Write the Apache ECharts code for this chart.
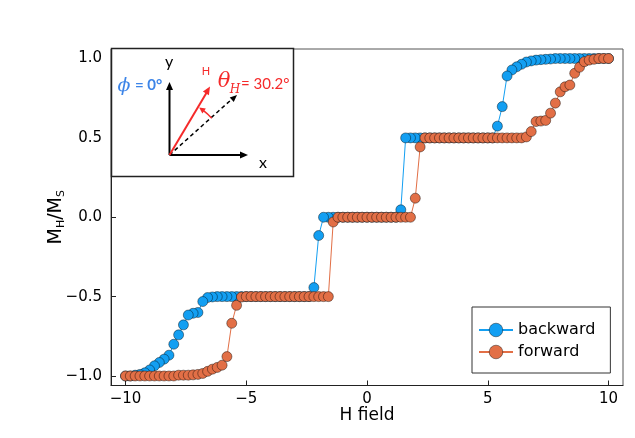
<!DOCTYPE html>
<html>
<head>
<meta charset="utf-8">
<script src="https://cdn.jsdelivr.net/npm/echarts@6/dist/echarts.min.js"></script>
<style>
  html, body { margin: 0; padding: 0; background: #fff; }
  #main { width: 635px; height: 438px; }
</style>
</head>
<body>
<div id="main"></div>
<script>
// H field sweep points
var hField = [-10,-9.8,-9.6,-9.4,-9.2,-9,-8.8,-8.6,-8.4,-8.2,-8,-7.8,-7.6,-7.4,-7.2,-7,-6.8,-6.6,-6.4,-6.2,
  -6,-5.8,-5.6,-5.4,-5.2,-5,-4.8,-4.6,-4.4,-4.2,-4,-3.8,-3.6,-3.4,-3.2,-3,-2.8,-2.6,-2.4,-2.2,
  -2,-1.8,-1.6,-1.4,-1.2,-1,-0.8,-0.6,-0.4,-0.2,0,0.2,0.4,0.6,0.8,1,1.2,1.4,1.6,1.8,
  2,2.2,2.4,2.6,2.8,3,3.2,3.4,3.6,3.8,4,4.2,4.4,4.6,4.8,5,5.2,5.4,5.6,5.8,
  6,6.2,6.4,6.6,6.8,7,7.2,7.4,7.6,7.8,8,8.2,8.4,8.6,8.8,9,9.2,9.4,9.6,9.8,10];

// M_H/M_S, backward sweep (listed by ascending H)
var backward = [-1,-1,-0.995,-0.99,-0.98,-0.962,-0.936,-0.915,-0.894,-0.869,
  -0.8,-0.741,-0.678,-0.616,-0.605,-0.6,-0.531,-0.506,-0.502,-0.5,
  -0.5,-0.5,-0.5,-0.5,-0.5,-0.5,-0.5,-0.5,-0.5,-0.5,-0.5,-0.5,-0.5,-0.5,-0.5,-0.5,-0.5,-0.5,-0.5,
  -0.443,-0.115,
  0,0,0,0,0,0,0,0,0,0,0,0,0,0,0,0,
  0.047,
  0.5,0.5,0.5,0.5,0.5,0.5,0.5,0.5,0.5,0.5,0.5,0.5,0.5,0.5,0.5,0.5,0.5,0.5,0.5,
  0.574,0.697,0.89,0.928,0.948,0.964,0.978,0.985,0.99,0.993,0.995,0.997,
  1,1,1,1,1,1,1,1,1,1,1,1];

// M_H/M_S, forward sweep
var forward = [-1,-1,-1,-1,-1,-1,-1,-1,-1,-1,-1,
  -0.995,-0.995,-0.995,-0.993,-0.99,-0.984,
  -0.971,-0.957,-0.946,-0.932,-0.878,-0.668,-0.555,-0.503,
  -0.5,-0.5,-0.5,-0.5,-0.5,-0.5,-0.5,-0.5,-0.5,-0.5,-0.5,-0.5,-0.5,-0.5,-0.5,-0.5,-0.5,-0.5,
  -0.03,
  0,0,0,0,0,0,0,0,0,0,0,0,0,0,0,0,
  0.12,0.443,
  0.5,0.5,0.5,0.5,0.5,0.5,0.5,0.5,0.5,0.5,0.5,0.5,0.5,0.5,0.5,0.5,0.5,0.5,0.5,0.5,0.5,
  0.506,0.54,0.603,0.606,0.61,0.656,0.719,0.79,0.822,0.833,0.907,0.945,0.98,0.99,0.995,
  1,1,1];

var xTicks = [-10, -5, 0, 5, 10];
var yTicks = [-1, -0.5, 0, 0.5, 1];

var blue = '#139ff2';
var orange = '#e26f46';
var red = '#f52a2a';
var font = 'DejaVu Sans';

function pairs(ys) {
  return hField.map(function (h, i) { return [h, ys[i]]; });
}
function minus(s) { return s.replace('-', '\u2212'); }

var chart = echarts.init(document.getElementById('main'));

// inset sketch: arrows and labels
var ox = 169.5, oy = 155;
function head(tx, ty, fx, fy, color, len, w) {
  var dx = tx - fx, dy = ty - fy, d = Math.sqrt(dx * dx + dy * dy);
  dx /= d; dy /= d;
  var bx = tx - dx * len, by = ty - dy * len;
  return {
    type: 'polygon', z: 102,
    shape: { points: [[tx, ty], [bx - dy * w, by + dx * w], [bx + dy * w, by - dx * w]] },
    style: { fill: color }
  };
}
var arcR = 56, a1 = 41 * Math.PI / 180, a2 = 58 * Math.PI / 180;
var arcEnd = [ox + arcR * Math.cos(a2), oy - arcR * Math.sin(a2)];
var arcPrev = [ox + arcR * Math.cos(a2 - 0.1), oy - arcR * Math.sin(a2 - 0.1)];

var inset = [
  { type: 'rect', z: 100, shape: { x: 111.5, y: 48.5, width: 182, height: 128 },
    style: { fill: '#fff', stroke: '#222', lineWidth: 1.5 } },
  { type: 'line', z: 101, shape: { x1: ox, y1: oy, x2: ox, y2: 88 }, style: { stroke: '#000', lineWidth: 2 } },
  head(ox, 82, ox, oy, '#000', 8, 3.5),
  { type: 'line', z: 101, shape: { x1: ox, y1: oy, x2: 242, y2: oy }, style: { stroke: '#000', lineWidth: 2 } },
  head(248, oy, ox, oy, '#000', 8, 3.5),
  { type: 'line', z: 101, shape: { x1: ox, y1: oy, x2: 232, y2: 99 }, style: { stroke: '#000', lineWidth: 1.5, lineDash: [4, 3] } },
  head(237, 95, ox, oy, '#000', 7, 3),
  { type: 'line', z: 101, shape: { x1: ox, y1: oy, x2: 207, y2: 92 }, style: { stroke: red, lineWidth: 2 } },
  head(210, 86.5, ox, oy, red, 8, 3.5),
  { type: 'arc', z: 101, shape: { cx: ox, cy: oy, r: arcR, startAngle: -a1, endAngle: -a2 + 0.08, clockwise: false },
    style: { stroke: red, lineWidth: 1.5, fill: null } },
  head(arcEnd[0], arcEnd[1], arcPrev[0], arcPrev[1], red, 6, 3),
  { type: 'text', z: 102, style: { text: 'y', x: 169, y: 62, align: 'center', verticalAlign: 'middle', font: '16px Lato', fill: '#000' } },
  { type: 'text', z: 102, style: { text: 'x', x: 263, y: 163, align: 'center', verticalAlign: 'middle', font: '16px Lato', fill: '#000' } },
  { type: 'text', z: 102, style: { text: 'H', x: 206, y: 71, align: 'center', verticalAlign: 'middle', font: '11px Lato', fill: red } },
  { type: 'text', z: 102, style: { text: '\u03d5', x: 124, y: 86, align: 'center', verticalAlign: 'middle', font: 'italic 19px "DejaVu Serif"', fill: '#3d85e8' } },
  { type: 'text', z: 102, style: { text: '= 0\u00b0', x: 135, y: 85, align: 'left', verticalAlign: 'middle', font: 'bold 15px Lato', fill: '#3d85e8' } },
  { type: 'text', z: 102, style: { text: '\u03b8', x: 224, y: 82, align: 'center', verticalAlign: 'middle', font: 'italic 21px "DejaVu Serif"', fill: red } },
  { type: 'text', z: 102, style: { text: 'H', x: 235, y: 90, align: 'center', verticalAlign: 'middle', font: 'italic 12px "DejaVu Serif"', fill: red } },
  { type: 'text', z: 102, style: { text: '= 30.2\u00b0', x: 241, y: 84, align: 'left', verticalAlign: 'middle', font: '15px Lato', fill: red } }
];

var option = {
  animation: false,
  backgroundColor: '#fff',
  grid: { left: 111, right: 12, top: 49, bottom: 52.5, show: true, borderColor: '#555', borderWidth: 1, backgroundColor: 'transparent' },
  xAxis: {
    type: 'value', min: -10.6, max: 10.6,
    name: 'H field', nameLocation: 'middle', nameGap: 22, nameMoveOverlap: false,
    nameTextStyle: { fontFamily: font, fontSize: 17, color: '#000' },
    axisLine: { show: true, onZero: false, lineStyle: { color: '#222', width: 1 } },
    axisTick: { show: true, inside: true, length: 5, customValues: xTicks, lineStyle: { color: '#222' } },
    axisLabel: { customValues: xTicks, margin: 6, fontFamily: font, fontSize: 15, color: '#000',
      formatter: function (v) { return minus(String(v)); } },
    splitLine: { show: false }
  },
  yAxis: {
    type: 'value', min: -1.06, max: 1.06,
    name: '{m|M}{s|H}{m|/M}{s|S}', nameLocation: 'middle', nameGap: 44, nameMoveOverlap: false,
    nameTextStyle: { rich: {
      m: { fontFamily: font, fontSize: 19, color: '#000', lineHeight: 22, verticalAlign: 'middle' },
      s: { fontFamily: font, fontSize: 11, color: '#000', lineHeight: 10, verticalAlign: 'bottom' }
    } },
    axisLine: { show: true, onZero: false, lineStyle: { color: '#222', width: 1 } },
    axisTick: { show: true, inside: true, length: 5, customValues: yTicks, lineStyle: { color: '#222' } },
    axisLabel: { customValues: yTicks, margin: 9, fontFamily: font, fontSize: 15, color: '#000',
      formatter: function (v) { return minus(v.toFixed(1)); } },
    splitLine: { show: false }
  },
  legend: {
    orient: 'vertical', left: 472, top: 307,
    padding: [15, 15, 13, 6], itemGap: 6, itemWidth: 34, itemHeight: 17,
    borderColor: '#333', borderWidth: 1, backgroundColor: '#fff',
    itemStyle: { borderWidth: 0.6 },
    textStyle: { fontFamily: font, fontSize: 16, color: '#000' },
    data: ['backward', 'forward']
  },
  series: [
    { name: 'backward', type: 'line', data: pairs(backward).reverse(),
      symbol: 'circle', symbolSize: 10, showAllSymbol: true,
      lineStyle: { color: blue, width: 1 },
      itemStyle: { color: blue, borderColor: 'rgba(0,0,0,0.7)', borderWidth: 0.6 },
      emphasis: { disabled: true } },
    { name: 'forward', type: 'line', data: pairs(forward),
      symbol: 'circle', symbolSize: 10, showAllSymbol: true,
      lineStyle: { color: orange, width: 1 },
      itemStyle: { color: orange, borderColor: 'rgba(0,0,0,0.7)', borderWidth: 0.6 },
      emphasis: { disabled: true } }
  ],
  graphic: inset
};

chart.setOption(option);
</script>
</body>
</html>
